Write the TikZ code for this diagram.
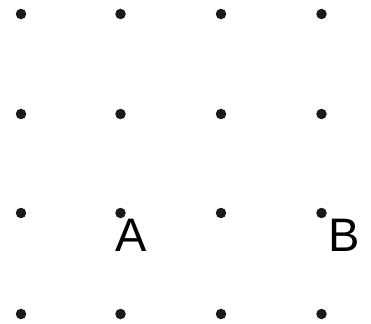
\documentclass[tikz,border=0pt]{standalone}
\usepackage{fontspec}
\setmainfont{Liberation Sans}
\begin{document}
\begin{tikzpicture}[x=1pt,y=-1pt,
  gdot/.style={circle,fill=black!90,inner sep=0pt,minimum size=10.5pt},
  lbl/.style={anchor=base,inner sep=0pt,font=\fontsize{47}{47}\selectfont}]
\useasboundingbox (0,0) rectangle (371,323);
\foreach \i/\x in {1/21,2/120.5,3/221,4/321.5}{
  \foreach \j/\y in {1/14,2/114,3/213,4/314}{
    \node[gdot] (d\i\j) at (\x,\y) {};
  }
}
\node[lbl] (A) at (131,251) {A};
\node[lbl] (B) at (344,251) {B};
\end{tikzpicture}
\end{document}
